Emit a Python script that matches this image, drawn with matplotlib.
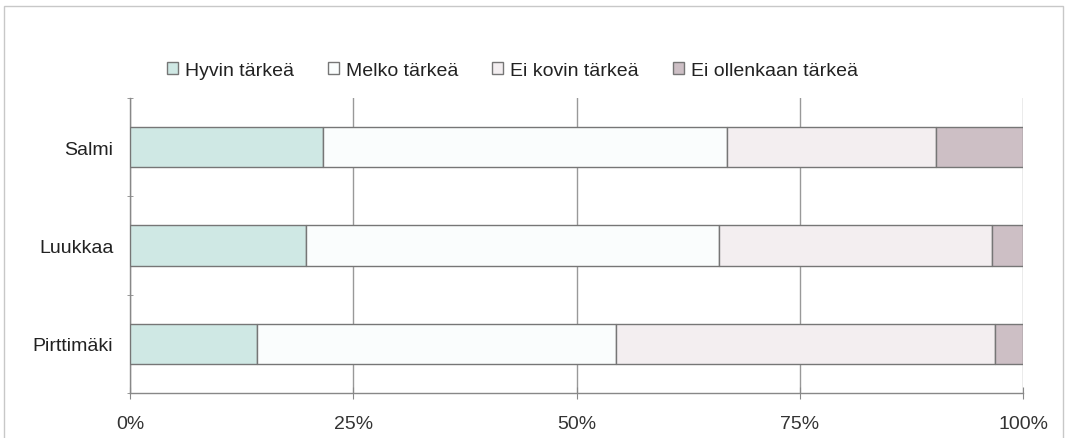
import numpy as np
import matplotlib
matplotlib.use("Agg")
import matplotlib.pyplot as plt
from matplotlib.patches import Rectangle
from matplotlib.ticker import FixedLocator, PercentFormatter

plt.rcParams['font.family'] = ['Liberation Sans', 'DejaVu Sans']

places = ["Salmi", "Luukkaa", "Pirttimäki"]
series = ["Hyvin tärkeä", "Melko tärkeä", "Ei kovin tärkeä", "Ei ollenkaan tärkeä"]
hyvin = [21.6, 19.7, 14.2]
melko = [45.3, 46.3, 40.2]
ei_kovin = [23.4, 30.5, 42.5]
ei_ollenkaan = [9.7, 3.5, 3.1]
colors = ["#cfe8e4", "#fafdfd", "#f3eef0", "#cdbfc5"]

fig = plt.figure(figsize=(10.65, 4.39), dpi=100)
ax = fig.add_axes([0.1221, 0.1025, 0.8385, 0.672])

# outer frame
fig.patches.append(Rectangle((0.0038, -0.02), 0.9944, 1.004, transform=fig.transFigure,
                             fill=False, edgecolor="#c8c8c8", linewidth=1.0))

y = np.arange(len(places))
left = np.zeros(len(places))
for name, vals, c in zip(series, [hyvin, melko, ei_kovin, ei_ollenkaan], colors):
    ax.barh(y, vals, left=left, height=0.41, color=c, edgecolor="#767676",
            linewidth=1.0, label=name, zorder=3)
    left += np.array(vals)

ax.set_xlim(0, 100)
ax.set_ylim(2.5, -0.5)
ax.set_xticks([0, 25, 50, 75, 100])
ax.xaxis.set_major_formatter(PercentFormatter(decimals=0))
ax.grid(axis="x", color="#999999", linewidth=1.0, zorder=0)
ax.set_yticks(y)
ax.set_yticklabels(places)
ax.yaxis.set_minor_locator(FixedLocator([-0.5, 0.5, 1.5, 2.5]))
ax.tick_params(axis="y", which="major", length=0, pad=12, labelsize=14, labelcolor="#222222")
ax.tick_params(axis="y", which="minor", length=5, direction="inout", color="#888888")
ax.tick_params(axis="x", length=8, direction="inout", color="#888888", pad=12,
               labelsize=14, labelcolor="#333333")
for s in ["top", "right"]:
    ax.spines[s].set_visible(False)
for s in ["left", "bottom"]:
    ax.spines[s].set_color("#888888")
    ax.spines[s].set_linewidth(1.0)

fig.legend(loc="center", bbox_to_anchor=(0.481, 0.838), ncol=4, frameon=False,
           fontsize=14, handlelength=0.57, handleheight=0.57, handletextpad=0.36,
           columnspacing=1.75, labelcolor="#222222")

fig.savefig("out.png", dpi=100)
